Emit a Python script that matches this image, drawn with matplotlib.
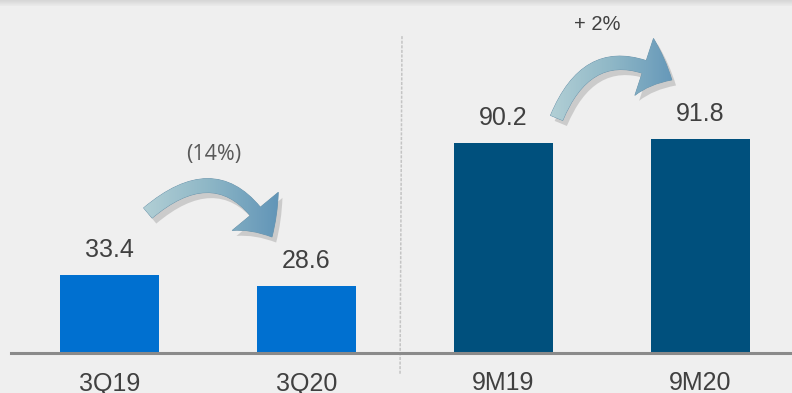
import numpy as np
import matplotlib
matplotlib.use("Agg")
import matplotlib.pyplot as plt
from matplotlib.patches import FancyArrowPatch, ArrowStyle
from matplotlib.colors import LinearSegmentedColormap
import matplotlib.patheffects as pe

# quarterly and nine-month figures
categories = ["3Q19", "3Q20", "9M19", "9M20"]
values = [33.4, 28.6, 90.2, 91.8]
bar_colors = ["#0070d0", "#0070d0", "#00507d", "#00507d"]
changes = ["(14%)", "+ 2%"]
change_pairs = [(0, 1), (2, 3)]

W, H = 792, 393
fig = plt.figure(figsize=(W / 100, H / 100), dpi=100)
fig.patch.set_facecolor("#efefef")

# faint band along the top edge
top = fig.add_axes([0, 1 - 6 / H, 1, 6 / H])
top.imshow(np.linspace(0, 1, 20)[:, None], aspect="auto", cmap=LinearSegmentedColormap.from_list("t", ["#d6d6d6", "#ebebeb"]))
top.axis("off")

ax = fig.add_axes([11 / W, 40 / H, 781 / W, 353 / H])
ax.set_facecolor("none")
x = np.arange(len(categories))
ax.bar(x, values, width=0.5, color=bar_colors, zorder=2)
ax.set_xlim(-0.5, 3.465)
ax.set_ylim(0, 151.5)

for s in ["top", "right", "left"]:
    ax.spines[s].set_visible(False)
ax.spines["bottom"].set_color("#8a8a8a")
ax.spines["bottom"].set_linewidth(2.2)
ax.spines["bottom"].set_zorder(3)
ax.set_yticks([])
ax.set_xticks([])

label_font = dict(family="Liberation Sans", fontsize=18, color="#404040")
for xi, v, c in zip(x, values, categories):
    ax.annotate(f"{v:.1f}", (xi, v), xytext=(0, 13), textcoords="offset points",
                ha="center", va="baseline", **label_font)
    ax.annotate(c, (xi, 0), xytext=(0, -27), textcoords="offset points",
                ha="center", va="baseline", annotation_clip=False, **label_font)

# dashed divider between quarter and year-to-date
ax.plot([1.485, 1.475], [136, -9.5], ls=(0, (2, 1)), color="#c4c4c4", lw=1.1,
        clip_on=False, zorder=1)

# change labels
ax.text(0.53, 82.8, changes[0], ha="center", va="baseline", fontsize=15.5,
        family="Open Sans", color="#595959")
ax.text(2.475, 138.6, changes[1], ha="center", va="baseline", fontsize=14.5,
        family="Liberation Sans", color="#404040")

grad = LinearSegmentedColormap.from_list("arrow", ["#b9d4d8", "#8db6c6", "#5a8fb5"])
arrow_style = ArrowStyle("simple", head_length=22, head_width=43, tail_width=9.5)

# curved arrows from the earlier bar to the later one
arrows = [
    ((0.195, 60.1), (0.825, 49.8), -0.62),
    ((2.27, 100.9), (2.855, 117.2), -0.58),
]
for (tail, tip, rad) in arrows:
    arr = FancyArrowPatch(tail, tip, arrowstyle=arrow_style,
                          connectionstyle=f"arc3,rad={rad}", shrinkA=0, shrinkB=0,
                          facecolor="#7ea9c0", edgecolor="#6b93aa", lw=0.6, zorder=4,
                          path_effects=[pe.SimplePatchShadow(offset=(3, -4), shadow_rgbFace="#8a8a8a", alpha=0.35),
                                        pe.Normal()])
    ax.add_patch(arr)
    x0, x1 = tail[0] - 0.1, tip[0] + 0.1
    y0, y1 = min(tail[1], tip[1]) - 15, max(tail[1], tip[1]) + 30
    im = ax.imshow(np.linspace(0, 1, 64)[None, :], extent=(x0, x1, y0, y1),
                   cmap=grad, aspect="auto", zorder=5)
    im.set_clip_path(arr)

ax.set_xlim(-0.5, 3.465)
ax.set_ylim(0, 151.5)

fig.savefig("out.png", dpi=100, facecolor=fig.get_facecolor())
